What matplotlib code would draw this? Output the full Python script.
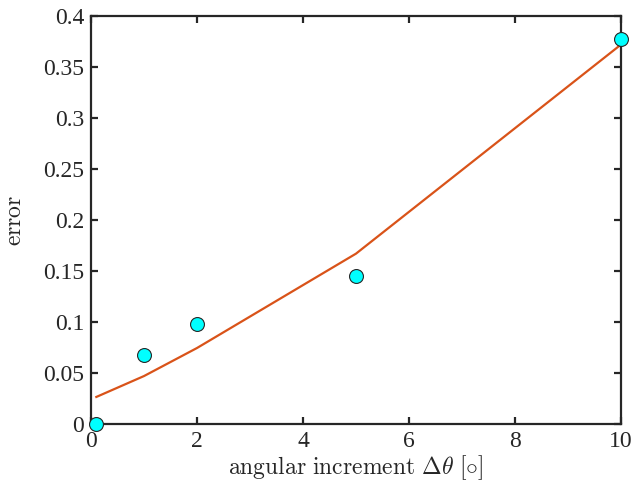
import matplotlib.pyplot as plt

plt.rcParams['font.family'] = ['Liberation Serif', 'DejaVu Serif']
plt.rcParams['mathtext.fontset'] = 'cm'

# measured errors
dtheta = [0.1, 1, 2, 5, 10]
err = [0.0, 0.068, 0.098, 0.145, 0.377]

# fitted curve
fit_x = [0.1, 1, 2, 5, 10]
fit_y = [0.0265, 0.047, 0.0745, 0.167, 0.372]

fig = plt.figure(figsize=(6.33, 4.91), dpi=100)
ax = fig.add_axes([0.1438, 0.1365, 0.8372, 0.8309])

ax.plot(fit_x, fit_y, color='#D95319', linewidth=1.6, zorder=2)
ax.plot(dtheta, err, 'o', markersize=10, markerfacecolor='#00FFFF',
        markeredgecolor='#262626', markeredgewidth=0.8, clip_on=False, zorder=3)

ax.set_xlim(0, 10)
ax.set_ylim(0, 0.4)
ax.set_xticks([0, 2, 4, 6, 8, 10])
ax.set_yticks([0, 0.05, 0.1, 0.15, 0.2, 0.25, 0.3, 0.35, 0.4])
ax.set_yticklabels(['0', '0.05', '0.1', '0.15', '0.2', '0.25', '0.3', '0.35', '0.4'])

for s in ax.spines.values():
    s.set_linewidth(1.6)
    s.set_color('#262626')
ax.tick_params(direction='in', length=5, width=1.6, colors='#262626',
               top=True, right=True, labelsize=17, pad=5)

ax.set_xlabel(r'$\mathrm{angular\ increment}\ \Delta\theta\ [\circ]$', fontsize=17,
              color='#262626', labelpad=1)
ax.set_ylabel(r'$\mathrm{error}$', fontsize=17, color='#262626', labelpad=12)

fig.savefig('out.png', dpi=100)
